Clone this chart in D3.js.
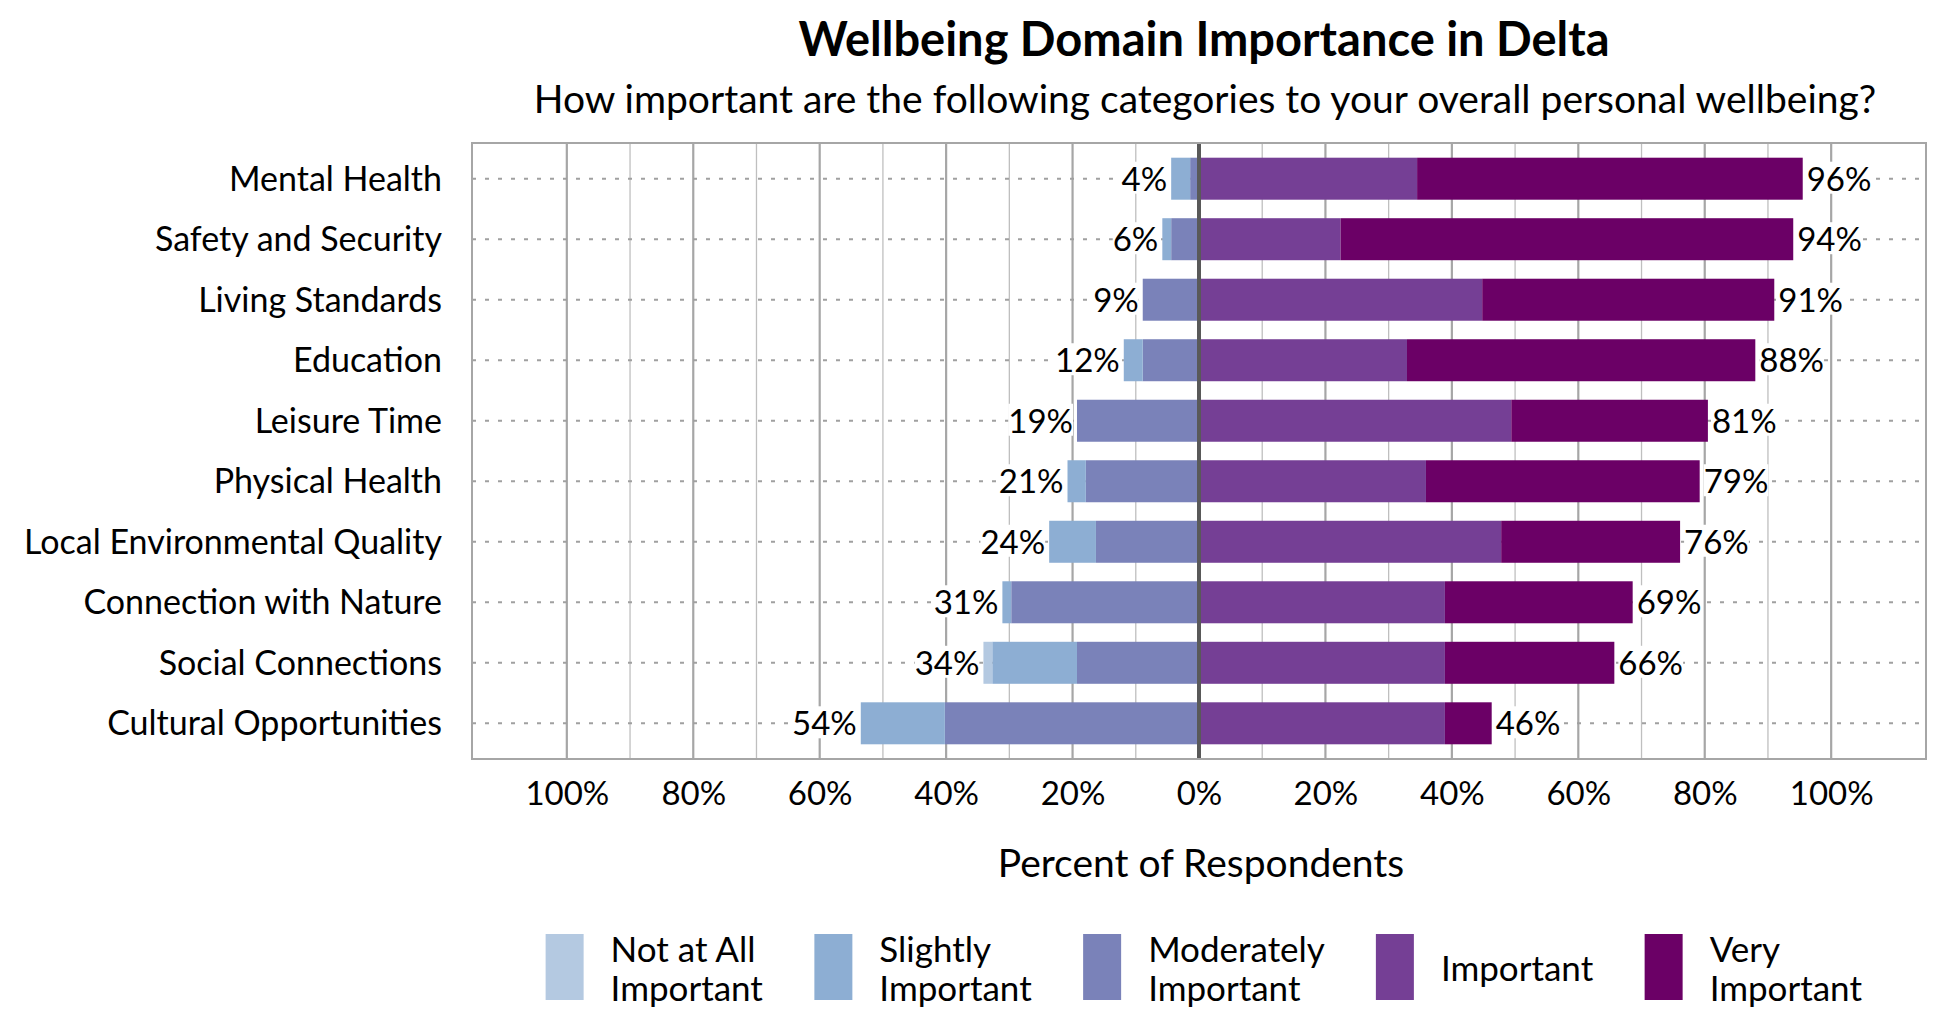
<!DOCTYPE html>
<html>
<head>
<meta charset="utf-8">
<script src="https://cdn.jsdelivr.net/npm/d3@7"></script>
<style>
  body { margin: 0; background: #fff; }
  text { font-family: Lato, "Open Sans", sans-serif; fill: #000; }
</style>
</head>
<body>
<svg id="chart" width="1950" height="1020"></svg>
<script>
// data, top row first
const categories = ["Mental Health", "Safety and Security", "Living Standards", "Education", "Leisure Time",
  "Physical Health", "Local Environmental Quality", "Connection with Nature", "Social Connections", "Cultural Opportunities"];
const notAtAll      = [0,   0,    0,    0,    0,    0,    0,    0,    1.4,  0];
const slightly      = [3.0, 1.4,  0,    3.0,  0,    2.9,  7.4,  1.4,  13.4, 13.3];
const moderately    = [1.4, 4.4,  8.9,  8.9,  19.3, 17.9, 16.3, 29.7, 19.3, 40.2];
const important     = [34.5, 22.4, 44.8, 32.9, 49.4, 35.9, 47.8, 38.9, 38.9, 38.9];
const veryImportant = [61.0, 71.6, 46.2, 55.1, 31.1, 43.3, 28.3, 29.7, 26.8, 7.4];
const negLabels = [4, 6, 9, 12, 19, 21, 24, 31, 34, 54];
const posLabels = [96, 94, 91, 88, 81, 79, 76, 69, 66, 46];
const xTicks = [-100, -80, -60, -40, -20, 0, 20, 40, 60, 80, 100];
const gridTicks = d3.range(-100, 101, 10);
const legendNames = [["Not at All", "Important"], ["Slightly", "Important"], ["Moderately", "Important"], ["Important"], ["Very", "Important"]];
const colors = ["#b4c9e1", "#8daed3", "#7a82b9", "#753f95", "#6b0066"];

const svg = d3.select("#chart");
const plot = { left: 472, right: 1926, top: 143, bottom: 759 };

const x = d3.scaleLinear().domain([-115, 115]).range([plot.left, plot.right]);
const y = d3.scalePoint().domain(categories).range([plot.top, plot.bottom]).padding(0.59);
const barH = 42;

// titles
svg.append("text")
  .attr("x", 1204).attr("y", 56)
  .attr("text-anchor", "middle")
  .style("font-size", "47px").style("font-weight", "bold")
  .text("Wellbeing Domain Importance in Delta");
svg.append("text")
  .attr("x", 1205).attr("y", 113)
  .attr("text-anchor", "middle")
  .style("font-size", "39px")
  .text("How important are the following categories to your overall personal wellbeing?");

// grid
svg.append("g").selectAll("line")
  .data(gridTicks.filter(d => d % 20 !== 0))
  .join("line")
  .attr("x1", d => x(d)).attr("x2", d => x(d))
  .attr("y1", plot.top).attr("y2", plot.bottom)
  .attr("stroke", "#bfbfbf").attr("stroke-width", 1.3);
svg.append("g").selectAll("line")
  .data(gridTicks.filter(d => d % 20 === 0 && d !== 0))
  .join("line")
  .attr("x1", d => x(d)).attr("x2", d => x(d))
  .attr("y1", plot.top).attr("y2", plot.bottom)
  .attr("stroke", "#a6a6a6").attr("stroke-width", 2.2);

// dotted row lines
svg.append("g").selectAll("line")
  .data(categories)
  .join("line")
  .attr("x1", plot.left).attr("x2", plot.right)
  .attr("y1", d => y(d)).attr("y2", d => y(d))
  .attr("stroke", "#a0a0a0").attr("stroke-width", 2)
  .attr("stroke-dasharray", "4,9");

// stacked segments
const segs = [];
categories.forEach((c, i) => {
  let l = 0;
  [[moderately, 2], [slightly, 1], [notAtAll, 0]].forEach(([arr, k]) => {
    segs.push({ c, k, x0: l - arr[i], x1: l });
    l -= arr[i];
  });
  let r = 0;
  [[important, 3], [veryImportant, 4]].forEach(([arr, k]) => {
    segs.push({ c, k, x0: r, x1: r + arr[i] });
    r += arr[i];
  });
});

svg.append("g").selectAll("rect")
  .data(segs.filter(d => d.x1 > d.x0))
  .join("rect")
  .attr("x", d => x(d.x0))
  .attr("y", d => y(d.c) - barH / 2)
  .attr("width", d => x(d.x1) - x(d.x0))
  .attr("height", barH)
  .attr("fill", d => colors[d.k]);

// zero line and border
svg.append("line")
  .attr("x1", x(0)).attr("x2", x(0))
  .attr("y1", plot.top).attr("y2", plot.bottom)
  .attr("stroke", "#595959").attr("stroke-width", 4);
svg.append("rect")
  .attr("x", plot.left).attr("y", plot.top)
  .attr("width", plot.right - plot.left).attr("height", plot.bottom - plot.top)
  .attr("fill", "none").attr("stroke", "#a6a6a6").attr("stroke-width", 2);

// value labels with white backing
const labels = [];
categories.forEach((c, i) => {
  const neg = notAtAll[i] + slightly[i] + moderately[i];
  const pos = important[i] + veryImportant[i];
  labels.push({ c, v: -neg, t: negLabels[i] + "%", side: -1 });
  labels.push({ c, v: pos, t: posLabels[i] + "%", side: 1 });
});
const lab = svg.append("g").selectAll("g")
  .data(labels)
  .join("g");
lab.append("text")
  .attr("x", d => x(d.v) + d.side * 4)
  .attr("y", d => y(d.c) + 12)
  .attr("text-anchor", d => d.side < 0 ? "end" : "start")
  .style("font-size", "33px")
  .text(d => d.t);
lab.each(function () {
  const t = d3.select(this).select("text");
  const b = t.node().getBBox();
  d3.select(this).insert("rect", "text")
    .attr("x", b.x).attr("y", b.y + 4)
    .attr("width", b.width).attr("height", b.height - 8)
    .attr("fill", "#fff");
});

// category labels
svg.append("g").selectAll("text")
  .data(categories)
  .join("text")
  .attr("x", 442)
  .attr("y", d => y(d) + 12)
  .attr("text-anchor", "end")
  .style("font-size", "34px")
  .text(d => d);

// x axis labels
const xAxis = svg.append("g")
  .attr("transform", `translate(0,${plot.bottom})`)
  .call(d3.axisBottom(x).tickValues(xTicks).tickSize(0).tickPadding(23)
    .tickFormat(d => Math.abs(d) + "%"));
xAxis.select(".domain").remove();
xAxis.selectAll("text")
  .style("font-size", "33px")
  .style("font-family", "Lato, 'Open Sans', sans-serif")
  .attr("fill", "#000");

svg.append("text")
  .attr("x", x(0) + 2).attr("y", 877)
  .attr("text-anchor", "middle")
  .style("font-size", "39px")
  .text("Percent of Respondents");

// legend
const leg = svg.append("g");
const items = leg.selectAll("g")
  .data(legendNames)
  .join("g");
items.append("rect")
  .attr("x", 0).attr("y", 934)
  .attr("width", 38).attr("height", 66)
  .attr("fill", (d, i) => colors[i]);
items.append("text")
  .attr("x", 65)
  .style("font-size", "35px")
  .selectAll("tspan")
  .data(d => d.map((s, j) => ({ s, j, n: d.length })))
  .join("tspan")
  .attr("x", 65)
  .attr("y", d => d.n === 1 ? 981 : 962 + d.j * 39)
  .text(d => d.s);
let cx = 0;
items.each(function () {
  const w = d3.select(this).select("text").node().getBBox().width;
  d3.select(this).attr("transform", `translate(${cx},0)`);
  cx += 65 + w + 51;
});
const total = cx - 51;
leg.attr("transform", `translate(${1204 - total / 2},0)`);
</script>
</body>
</html>
